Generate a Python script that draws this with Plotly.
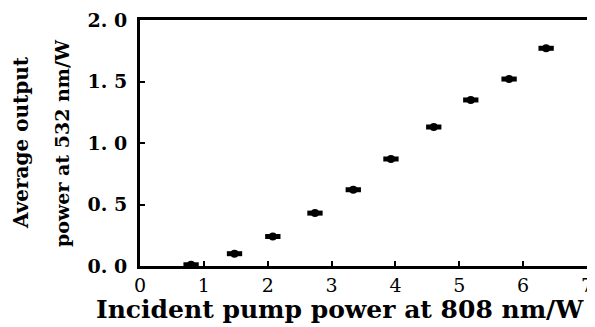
import plotly.graph_objects as go

pump_power = [0.8, 1.48, 2.08, 2.74, 3.34, 3.93, 4.6, 5.18, 5.78, 6.36]
output_power = [0.01, 0.10, 0.24, 0.43, 0.62, 0.87, 1.13, 1.35, 1.52, 1.77]
y_tick_vals = [0.0, 0.5, 1.0, 1.5, 2.0]
y_tick_text = ["0. 0", "0. 5", "1. 0", "1. 5", "2. 0"]
x_tick_vals = [0, 1, 2, 3, 4, 5, 6, 7]

serif = "DejaVu Serif"

fig = go.Figure()
fig.add_trace(go.Scatter(
    x=pump_power, y=output_power, mode="markers",
    marker=dict(symbol="circle", size=8, color="black"),
    error_x=dict(type="constant", value=0.12, thickness=5, width=0, color="black"),
    showlegend=False, cliponaxis=False,
))

# the page body adds an offset, margins compensate for it
fig.update_layout(
    width=595, height=327,
    margin=dict(l=132, r=16, t=12, b=69),
    plot_bgcolor="white", paper_bgcolor="white",
    xaxis=dict(
        range=[0, 7], tickvals=x_tick_vals, ticks="inside", ticklen=5, tickwidth=2,
        tickcolor="black", showline=True, linewidth=3, linecolor="black", mirror=True,
        showgrid=False, zeroline=False, automargin=False, ticklabeloverflow="allow",
        ticklabelstandoff=0,
        tickfont=dict(family=serif, size=19, color="black"),
    ),
    yaxis=dict(
        range=[0, 2.0], tickvals=y_tick_vals, ticktext=y_tick_text, ticks="inside",
        ticklen=5, tickwidth=2, tickcolor="black", showline=True, linewidth=3,
        linecolor="black", mirror=True, showgrid=False, zeroline=False, automargin=False,
        ticklabelstandoff=6, ticklabeloverflow="allow",
        tickfont=dict(family=serif, size=19, color="black", weight="bold"),
    ),
    font=dict(family=serif, color="black"),
)

fig.add_annotation(text="<b>Incident pump power at 808 nm/W</b>", xref="paper", yref="paper",
                   x=0.447, y=0.0, xanchor="center", yanchor="middle",
                   yshift=-43, showarrow=False,
                   font=dict(family=serif, size=25, color="black"))
fig.add_annotation(text="<b>Average output</b>", xref="paper", yref="paper",
                   x=0.0, y=0.5, xanchor="center", yanchor="middle", textangle=-90,
                   xshift=-119, showarrow=False,
                   font=dict(family=serif, size=20, color="black"))
fig.add_annotation(text="<b>power at 532 nm/W</b>", xref="paper", yref="paper",
                   x=0.0, y=0.5, xanchor="center", yanchor="middle", textangle=-90,
                   xshift=-78, showarrow=False,
                   font=dict(family=serif, size=19, color="black"))

fig.write_html("out.html")
